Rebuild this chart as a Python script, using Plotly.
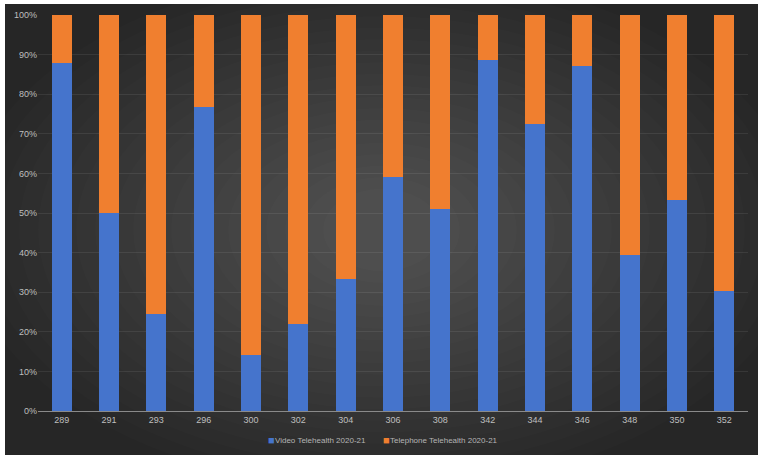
import plotly.graph_objects as go

categories = ["289", "291", "293", "296", "300", "302", "304", "306", "308",
              "342", "344", "346", "348", "350", "352"]
video = [87.9, 50.0, 24.5, 76.8, 14.1, 22.0, 33.3, 59.1, 51.0, 88.6, 72.5, 87.1, 39.4, 53.3, 30.3]
telephone = [round(100 - v, 1) for v in video]
series_names = ["Video Telehealth 2020-21", "Telephone Telehealth 2020-21"]
series_colors = ["#4574cc", "#f07f2f"]
y_ticks = [0, 10, 20, 30, 40, 50, 60, 70, 80, 90, 100]
y_tick_labels = [f"{v}%" for v in y_ticks]

W, H = 764, 460
ML, MR, MT, MB = 38, 16, 15, 49
PW, PH = W - ML - MR, H - MT - MB

def px_x(p):
    return (p - ML) / PW

def px_y(p):
    return (H - MB - p) / PH

fig = go.Figure()
fig.add_trace(go.Bar(x=categories, y=video, name=series_names[0],
                     marker=dict(color=series_colors[0], line=dict(width=0)), width=0.42))
fig.add_trace(go.Bar(x=categories, y=telephone, name=series_names[1],
                     marker=dict(color=series_colors[1], line=dict(width=0)), width=0.42))

shapes = [dict(type="rect", xref="paper", yref="paper", layer="below",
               x0=px_x(5), x1=px_x(758), y0=px_y(455), y1=px_y(4),
               fillcolor="#262626", line=dict(width=0))]
cx, cy = 382, 230
for i in range(20):
    rx = 420 - i * 19
    ry = 260 - i * 11.5
    shapes.append(dict(type="circle", xref="paper", yref="paper", layer="below",
                       x0=px_x(cx - rx), x1=px_x(cx + rx),
                       y0=px_y(cy + ry), y1=px_y(cy - ry),
                       fillcolor="rgba(255,255,255,0.011)", line=dict(width=0)))

legend_x = [267, 382]
annotations = []
for name, col, lx in zip(series_names, series_colors, legend_x):
    annotations.append(dict(
        xref="paper", yref="paper", x=px_x(lx - 1), y=px_y(440),
        xanchor="left", yanchor="middle", showarrow=False,
        text="■", font=dict(size=11, color=col),
    ))
    annotations.append(dict(
        xref="paper", yref="paper", x=px_x(lx + 6), y=px_y(440),
        xanchor="left", yanchor="middle", showarrow=False,
        text=name, font=dict(size=8, color="#b4b4b4"),
    ))

fig.update_layout(
    barmode="stack",
    width=W, height=H,
    margin=dict(l=ML, r=MR, t=MT, b=MB, autoexpand=False),
    paper_bgcolor="white",
    plot_bgcolor="rgba(0,0,0,0)",
    font=dict(family="Liberation Sans, Arial, sans-serif", size=9, color="#bfbfbf"),
    shapes=shapes,
    annotations=annotations,
    showlegend=False,
    xaxis=dict(showgrid=False, showline=True, linecolor="#8a8a8a", linewidth=1,
               ticks="", automargin=False, tickfont=dict(size=9, color="#bfbfbf")),
    yaxis=dict(range=[0, 100], tickvals=y_ticks, ticktext=y_tick_labels,
               showgrid=True, gridcolor="rgba(255,255,255,0.08)", gridwidth=1,
               zeroline=False, showline=False, ticks="", automargin=False,
               tickfont=dict(size=9, color="#bfbfbf")),
)

fig.write_html("out.html", config={"displayModeBar": False},
               post_script="document.body.style.margin='0';document.body.style.overflow='hidden';")
